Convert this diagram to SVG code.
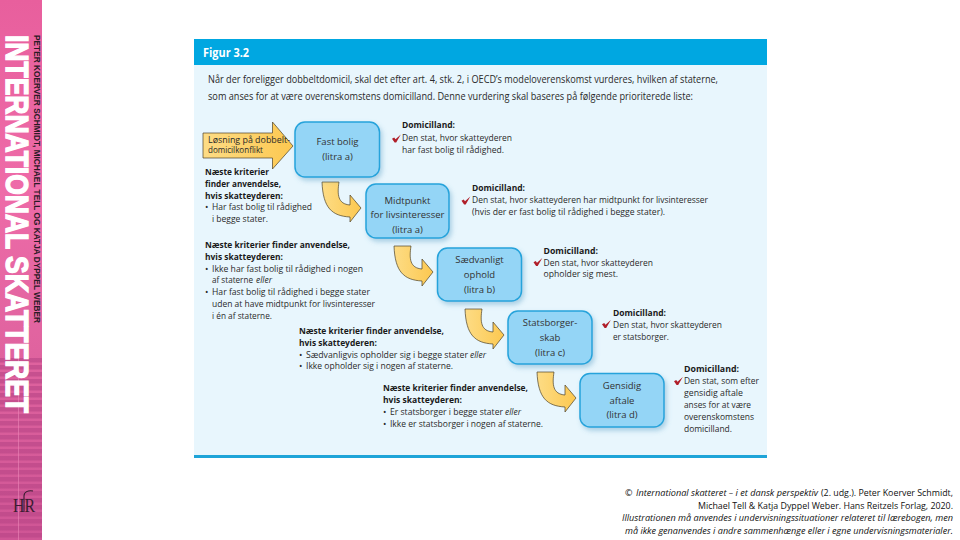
<svg xmlns="http://www.w3.org/2000/svg" width="960" height="540" viewBox="0 0 960 540">
<style>
text{font-family:"Open Sans","Noto Sans","Liberation Sans",sans-serif;fill:#2a2a2a;font-size:9px}
.b{font-weight:700;fill:#1a1a1a}
.i{font-style:italic}
.intro{font-size:10px}
.n{font-size:9.5px;text-anchor:middle;fill:#333}
.box{fill:#94d5f6;stroke:#25a3db;stroke-width:1.500;filter:url(#sh)}
.arr{fill:url(#yel);stroke:#4a4128;stroke-width:.7;stroke-linejoin:miter}
.chk{fill:#b01f2a}
.f{font-size:9px;fill:#111}
.fi{font-style:italic}
</style>
<defs>
<filter id="sh" x="-20%" y="-20%" width="145%" height="145%"><feDropShadow dx="2" dy="3" stdDeviation="2.500" flood-color="#5a9fc4" flood-opacity=".45"/></filter>
<linearGradient id="pink" x1="0" y1="0" x2="0" y2="1"><stop offset="0" stop-color="#e85f9d"/><stop offset=".35" stop-color="#ee6ba8"/><stop offset=".65" stop-color="#e0639f"/><stop offset="1" stop-color="#cf5595"/></linearGradient>
<linearGradient id="yel" x1="0" y1="0" x2="1" y2="0"><stop offset="0" stop-color="#fddc85"/><stop offset="1" stop-color="#fcc850"/></linearGradient>
<pattern id="st" width="42" height="7" patternUnits="userSpaceOnUse" y="358"><rect width="42" height="4.500" fill="#b84485" fill-opacity=".6"/></pattern>
<path id="curve" class="arr" d="M322 182H339C337 195 338 204 350 205V195L361 208L350 222V217C332 216 323 208 322 182Z"/>
<path id="check" class="chk" d="M0 4.200L2.200 3L3.500 4.800L8.800 0L4.200 8H2.600Z"/>
</defs>
<rect width="960" height="540" fill="#fff"/>
<g id="sidebar">
<rect width="42" height="540" fill="url(#pink)"/>
<rect y="358" width="42" height="182" fill="url(#st)"/>
<path d="M18.500 358V540" stroke="#f08abb" stroke-width=".8" opacity=".7"/>
<text transform="translate(6 35) rotate(90)" style="font-family:'Liberation Sans',sans-serif;font-weight:700;font-size:32px;fill:#fff;stroke:#fff;stroke-width:1.400" textLength="378" lengthAdjust="spacingAndGlyphs">INTERNATIONAL SKATTERET</text>
<text transform="translate(33.500 35) rotate(90)" style="font-family:'Liberation Sans',sans-serif;font-weight:700;font-size:9.500px;fill:#2b1a26" textLength="288" lengthAdjust="spacingAndGlyphs">PETER KOERVER SCHMIDT, MICHAEL TELL OG KATJA DYPPEL WEBER</text>
<text x="13" y="512" style="font-family:'Liberation Serif',serif;font-size:19px;fill:#3a1c30" textLength="22" lengthAdjust="spacingAndGlyphs">HR</text>
<path d="M24 512V496C24 492 28 490 33 491" fill="none" stroke="#3a1c30" stroke-width="1.100"/>
</g>
<g id="panel">
<rect x="194" y="39" width="573" height="419" fill="#e8f6fd"/>
<rect x="194" y="39" width="573" height="26" fill="#00a7e1"/>
<rect x="194" y="455" width="573" height="3" fill="#1ea4d8"/>
<text x="203" y="57" class="b" style="font-size:11.500px;fill:#fff" textLength="46" lengthAdjust="spacingAndGlyphs">Figur 3.2</text>
<text x="208" y="83" class="intro" textLength="510" lengthAdjust="spacingAndGlyphs">Når der foreligger dobbeltdomicil, skal det efter art. 4, stk. 2, i OECD’s modeloverenskomst vurderes, hvilken af staterne,</text>
<text x="208" y="100" class="intro" textLength="485" lengthAdjust="spacingAndGlyphs">som anses for at være overenskomstens domicilland. Denne vurdering skal baseres på følgende prioriterede liste:</text>
</g>
<g id="connectors">
<path id="arrow-start" class="arr" d="M203 133H272.500V122L293 146L272.500 169V158H203Z"/>
<use href="#curve"/>
<use href="#curve" x="72" y="64"/>
<use href="#curve" x="143" y="127"/>
<use href="#curve" x="215" y="190"/>
</g>
<g id="start-label">
<text x="208" y="143" style="font-size:8.500px" textLength="82" lengthAdjust="spacingAndGlyphs">Løsning på dobbelt-</text>
<text x="208" y="153" style="font-size:8.500px" textLength="55" lengthAdjust="spacingAndGlyphs">domicilkonflikt</text>
</g>
<g id="node-fast-bolig">
<rect class="box" x="295" y="122" width="84.500" height="55" rx="10"/>
<text class="n" x="337.500" y="145">Fast bolig</text>
<text class="n" x="337.500" y="160">(litra a)</text>
</g>
<g id="node-midtpunkt">
<rect class="box" x="366" y="184" width="83" height="54" rx="10"/>
<text class="n" x="407.500" y="204">Midtpunkt</text>
<text class="n" x="407.500" y="218">for livsinteresser</text>
<text class="n" x="407.500" y="233">(litra a)</text>
</g>
<g id="node-saedvanligt">
<rect class="box" x="437.500" y="248" width="84" height="53" rx="10"/>
<text class="n" x="479.500" y="263">Sædvanligt</text>
<text class="n" x="479.500" y="278">ophold</text>
<text class="n" x="479.500" y="293">(litra b)</text>
</g>
<g id="node-statsborger">
<rect class="box" x="508" y="311" width="84" height="53" rx="10"/>
<text class="n" x="550" y="326">Statsborger-</text>
<text class="n" x="550" y="341">skab</text>
<text class="n" x="550" y="356">(litra c)</text>
</g>
<g id="node-gensidig">
<rect class="box" x="580" y="373.500" width="84" height="53.500" rx="10"/>
<text class="n" x="622" y="389">Gensidig</text>
<text class="n" x="622" y="404">aftale</text>
<text class="n" x="622" y="418">(litra d)</text>
</g>
<g id="domicil-1">
<use href="#check" x="392" y="134.500"/>
<text x="402" y="128" class="b" textLength="53" lengthAdjust="spacingAndGlyphs">Domicilland:</text>
<text x="402" y="141" textLength="110" lengthAdjust="spacingAndGlyphs">Den stat, hvor skatteyderen</text>
<text x="402" y="153" textLength="102" lengthAdjust="spacingAndGlyphs">har fast bolig til rådighed.</text>
</g>
<g id="domicil-2">
<use href="#check" x="461.500" y="196.500"/>
<text x="472" y="191" class="b" textLength="53" lengthAdjust="spacingAndGlyphs">Domicilland:</text>
<text x="472" y="203" textLength="236" lengthAdjust="spacingAndGlyphs">Den stat, hvor skatteyderen har midtpunkt for livsinteresser</text>
<text x="472" y="215" textLength="193" lengthAdjust="spacingAndGlyphs">(hvis der er fast bolig til rådighed i begge stater).</text>
</g>
<g id="domicil-3">
<use href="#check" x="533.500" y="258"/>
<text x="543.500" y="254" class="b" textLength="54.500" lengthAdjust="spacingAndGlyphs">Domicilland:</text>
<text x="543.500" y="265.500" textLength="109.500" lengthAdjust="spacingAndGlyphs">Den stat, hvor skatteyderen</text>
<text x="543.500" y="277" textLength="74.500" lengthAdjust="spacingAndGlyphs">opholder sig mest.</text>
</g>
<g id="domicil-4">
<use href="#check" x="602" y="320"/>
<text x="613" y="316" class="b" textLength="53" lengthAdjust="spacingAndGlyphs">Domicilland:</text>
<text x="613" y="328" textLength="109" lengthAdjust="spacingAndGlyphs">Den stat, hvor skatteyderen</text>
<text x="613" y="340" textLength="56" lengthAdjust="spacingAndGlyphs">er statsborger.</text>
</g>
<g id="domicil-5">
<use href="#check" x="674" y="377"/>
<text x="684" y="372" class="b" textLength="55" lengthAdjust="spacingAndGlyphs">Domicilland:</text>
<text x="684" y="384" textLength="75" lengthAdjust="spacingAndGlyphs">Den stat, som efter</text>
<text x="684" y="396" textLength="59" lengthAdjust="spacingAndGlyphs">gensidig aftale</text>
<text x="684" y="408" textLength="67" lengthAdjust="spacingAndGlyphs">anses for at være</text>
<text x="684" y="420" textLength="70" lengthAdjust="spacingAndGlyphs">overenskomstens</text>
<text x="684" y="432" textLength="48" lengthAdjust="spacingAndGlyphs">domicilland.</text>
</g>
<g id="criteria-1">
<text x="205" y="175" class="b" textLength="64" lengthAdjust="spacingAndGlyphs">Næste kriterier</text>
<text x="205" y="187" class="b" textLength="76" lengthAdjust="spacingAndGlyphs">finder anvendelse,</text>
<text x="205" y="198.500" class="b" textLength="78" lengthAdjust="spacingAndGlyphs">hvis skatteyderen:</text>
<text x="205" y="210">•</text>
<text x="212" y="210" textLength="100" lengthAdjust="spacingAndGlyphs">Har fast bolig til rådighed</text>
<text x="212" y="222" textLength="56" lengthAdjust="spacingAndGlyphs">i begge stater.</text>
</g>
<g id="criteria-2">
<text x="205" y="248" class="b" textLength="145" lengthAdjust="spacingAndGlyphs">Næste kriterier finder anvendelse,</text>
<text x="205" y="260" class="b" textLength="78" lengthAdjust="spacingAndGlyphs">hvis skatteyderen:</text>
<text x="205" y="272">•</text>
<text x="212" y="272" textLength="151" lengthAdjust="spacingAndGlyphs">Ikke har fast bolig til rådighed i nogen</text>
<text x="212" y="283" textLength="41" lengthAdjust="spacingAndGlyphs">af staterne</text>
<text x="256" y="283" class="i" textLength="16" lengthAdjust="spacingAndGlyphs">eller</text>
<text x="205" y="295">•</text>
<text x="212" y="295" textLength="158" lengthAdjust="spacingAndGlyphs">Har fast bolig til rådighed i begge stater</text>
<text x="212" y="307" textLength="163" lengthAdjust="spacingAndGlyphs">uden at have midtpunkt for livsinteresser</text>
<text x="212" y="318.500" textLength="60" lengthAdjust="spacingAndGlyphs">i én af staterne.</text>
</g>
<g id="criteria-3">
<text x="299" y="333.500" class="b" textLength="145" lengthAdjust="spacingAndGlyphs">Næste kriterier finder anvendelse,</text>
<text x="299" y="345.500" class="b" textLength="78" lengthAdjust="spacingAndGlyphs">hvis skatteyderen:</text>
<text x="299" y="357.500">•</text>
<text x="306" y="357.500" textLength="162" lengthAdjust="spacingAndGlyphs">Sædvanligvis opholder sig i begge stater</text>
<text x="470" y="357.500" class="i" textLength="16" lengthAdjust="spacingAndGlyphs">eller</text>
<text x="299" y="369">•</text>
<text x="306" y="369" textLength="147" lengthAdjust="spacingAndGlyphs">Ikke opholder sig i nogen af staterne.</text>
</g>
<g id="criteria-4">
<text x="383" y="391" class="b" textLength="145" lengthAdjust="spacingAndGlyphs">Næste kriterier finder anvendelse,</text>
<text x="383" y="403" class="b" textLength="79" lengthAdjust="spacingAndGlyphs">hvis skatteyderen:</text>
<text x="383" y="415">•</text>
<text x="390" y="415" textLength="113" lengthAdjust="spacingAndGlyphs">Er statsborger i begge stater</text>
<text x="505" y="415" class="i" textLength="16" lengthAdjust="spacingAndGlyphs">eller</text>
<text x="383" y="427">•</text>
<text x="390" y="427" textLength="153" lengthAdjust="spacingAndGlyphs">Ikke er statsborger i nogen af staterne.</text>
</g>
<g id="credit">
<text x="625" y="496" class="f">©</text>
<text x="636" y="496" class="f fi" textLength="182" lengthAdjust="spacingAndGlyphs">International skatteret – i et dansk perspektiv</text>
<text x="821" y="496" class="f" textLength="132" lengthAdjust="spacingAndGlyphs">(2. udg.). Peter Koerver Schmidt,</text>
<text x="698" y="509" class="f" textLength="255" lengthAdjust="spacingAndGlyphs">Michael Tell &amp; Katja Dyppel Weber. Hans Reitzels Forlag, 2020.</text>
<text x="622" y="521" class="f fi" textLength="331" lengthAdjust="spacingAndGlyphs">Illustrationen må anvendes i undervisningssituationer relateret til lærebogen, men</text>
<text x="625" y="534" class="f fi" textLength="328" lengthAdjust="spacingAndGlyphs">må ikke genanvendes i andre sammenhænge eller i egne undervisningsmaterialer.</text>
</g>
</svg>
